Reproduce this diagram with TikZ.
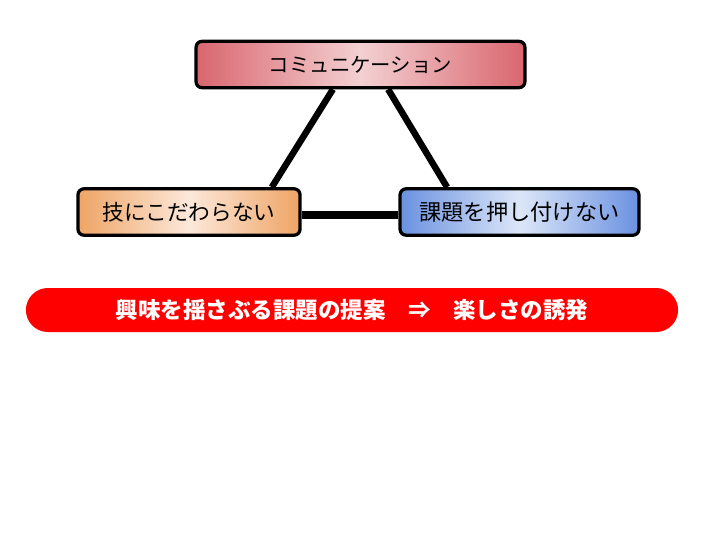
\documentclass[tikz,border=0pt]{standalone}
\usepackage{fontspec}
\usepackage{tikz}
\newfontfamily\jp{Noto Sans CJK JP}
\usetikzlibrary{shapes.geometric}
\definecolor{redEdge}{HTML}{D9666E}
\definecolor{redMid}{HTML}{F3D0D2}
\definecolor{orangeEdge}{HTML}{EFA465}
\definecolor{orangeMid}{HTML}{FCE8DA}
\definecolor{blueEdge}{HTML}{6A91E0}
\definecolor{blueMid}{HTML}{DCE6F8}
\tikzstyle{topic} = [rectangle, rounded corners=0.15cm, minimum height=1.16cm, text centered, draw=black, line width=2.3pt, font=\jp\fontsize{14.5}{16}\selectfont]
\tikzstyle{banner} = [rectangle, rounded corners=0.55cm, minimum width=16.3cm, minimum height=1.1cm, text centered, fill=red, text=white, font=\jp\bfseries\fontsize{16}{18}\selectfont]
\tikzstyle{link} = [line width=4.6pt]

\begin{document}
\begin{tikzpicture}[x=0.025cm, y=-0.025cm]
\useasboundingbox (0,0) rectangle (720,540);
\node (comm) [topic, minimum width=8.22cm, left color=redEdge, right color=redEdge, middle color=redMid] at (360.5,64.5) {コミュニケーション};
\node (skill) [topic, minimum width=5.55cm, left color=orangeEdge, right color=orangeEdge, middle color=orangeMid, font=\jp\fontsize{15.4}{17}\selectfont] at (189,212) {技にこだわらない};
\node (task) [topic, minimum width=5.97cm, left color=blueEdge, right color=blueEdge, middle color=blueMid, font=\jp\fontsize{15.8}{17}\selectfont] at (519.5,212) {課題を押し付けない};
\node (goal) [banner] at (352,310) {興味を揺さぶる課題の提案\hspace{1em}⇒\hspace{1em}楽しさの誘発};

\draw [link] ([xshift=-0.69cm]comm.south) -- ([xshift=2.07cm]skill.north);
\draw [link] ([xshift=0.69cm]comm.south) -- ([xshift=-1.81cm]task.north);
\draw [link, line width=5.4pt] ([yshift=-0.07cm]skill.east) -- ([yshift=-0.07cm]task.west);
\end{tikzpicture}
\end{document}
